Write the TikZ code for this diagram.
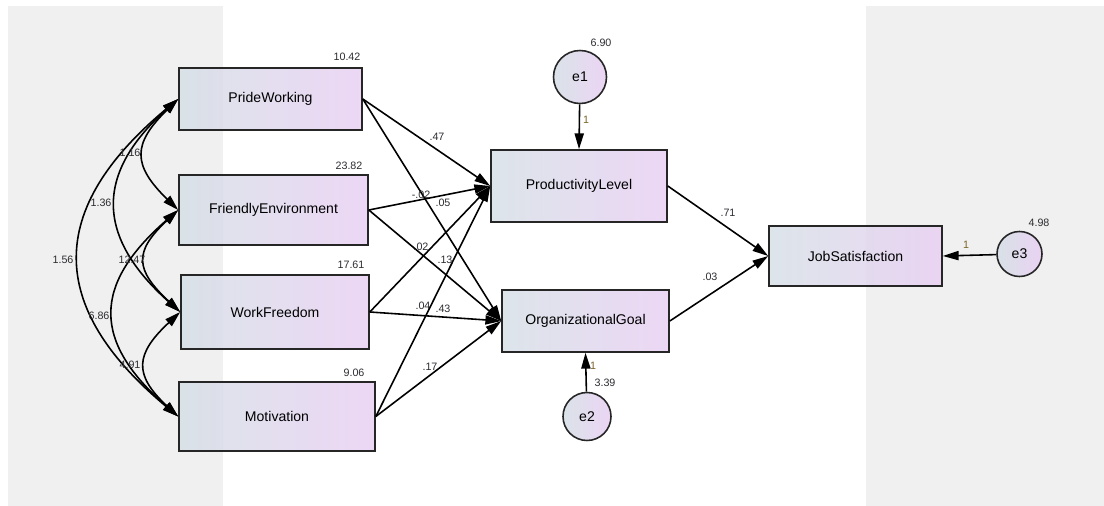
\documentclass[tikz,border=0pt]{standalone}
\usepackage{fontspec}
\setmainfont{Liberation Sans}
\usetikzlibrary{arrows.meta, calc}

\definecolor{panelgray}{RGB}{240,240,240}
\definecolor{boxleft}{RGB}{214,224,230}
\definecolor{boxright}{RGB}{233,208,243}
\definecolor{numtext}{RGB}{45,45,50}
\definecolor{onetext}{RGB}{125,100,40}

\tikzset{
  obsbox/.style={draw=black!85, line width=0.9pt, left color=boxleft, right color=boxright,
    fill opacity=0.85, text opacity=1, inner sep=0pt, font=\fontsize{8}{9}\selectfont},
  errcirc/.style={circle, draw=black!85, line width=0.9pt, shading=axis, shading angle=135,
    left color=boxleft, right color=boxright, fill opacity=0.9, text opacity=1, inner sep=0pt,
    font=\fontsize{8}{9}\selectfont},
  regarrow/.style={line width=0.9pt, -{Triangle[length=9pt,width=5.2pt]}},
  covarrow/.style={line width=0.9pt, {Triangle[length=9pt,width=5.2pt]}-{Triangle[length=9pt,width=5.2pt]}},
  est/.style={inner sep=0pt, text=numtext, font=\fontsize{6.1}{7}\selectfont},
  fixone/.style={est, text=onetext}
}

\begin{document}
\begin{tikzpicture}[x=0.2mm, y=0.2mm]

    \useasboundingbox (0,0) rectangle (1104,-506);

    % Grey panels behind the model
    \fill[panelgray] (8,-6) rectangle (223,-506);
    \fill[panelgray] (866,-6) rectangle (1104,-506);

    % Exogenous observed variables
    \node[obsbox, minimum width=36.6mm, minimum height=12.4mm] (pw) at (270.5,-99) {PrideWorking};
    \node[obsbox, minimum width=37.8mm, minimum height=14mm] (fe) at (273.5,-210) {FriendlyEnvironment};
    \node[obsbox, minimum width=37.6mm, minimum height=14.8mm] (wf) at (275,-312) {WorkFreedom};
    \node[obsbox, minimum width=39.2mm, minimum height=13.8mm] (mo) at (277,-416.5) {Motivation};

    % Endogenous variables
    \node[obsbox, minimum width=35.2mm, minimum height=14.4mm] (pl) at (579,-186) {ProductivityLevel};
    \node[obsbox, minimum width=33.4mm, minimum height=12.4mm] (og) at (585.5,-321) {OrganizationalGoal};
    \node[obsbox, minimum width=34.6mm, minimum height=12mm] (js) at (855.5,-256) {JobSatisfaction};

    % Error terms
    \node[errcirc, minimum size=10.6mm] (e1) at (580,-77) {e1};
    \node[errcirc, minimum size=9.6mm] (e2) at (587,-416.5) {e2};
    \node[errcirc, minimum size=9mm] (e3) at (1019.5,-254) {e3};

    % Covariances between the exogenous variables
    \draw[covarrow] (pw.west) .. controls +(-46,-45) and +(-46,45) .. (fe.west);
    \draw[covarrow] (pw.west) .. controls +(-84,-75) and +(-84,75) .. (wf.west);
    \draw[covarrow] (pw.west) .. controls +(-132,-110) and +(-132,110) .. (mo.west);
    \draw[covarrow] (fe.west) .. controls +(-45,-42) and +(-45,42) .. (wf.west);
    \draw[covarrow] (fe.west) .. controls +(-86,-75) and +(-86,75) .. (mo.west);
    \draw[covarrow] (wf.west) .. controls +(-45,-42) and +(-45,42) .. (mo.west);

    % Regression paths
    \foreach \src in {pw, fe, wf, mo} {
        \draw[regarrow] (\src.east) -- (pl.west);
        \draw[regarrow] (\src.east) -- (og.west);
    }
    \draw[regarrow] (pl.east) -- (js.west);
    \draw[regarrow] (og.east) -- (js.west);
    \draw[regarrow] (e1) -- (pl.north);
    \draw[regarrow] (e2) -- (og.south);
    \draw[regarrow] (e3) -- (js.east);

    % Variances
    \node[est] (vpw) at (347,-57) {10.42};
    \node[est] (vfe) at (349,-166) {23.82};
    \node[est] (vwf) at (351,-265) {17.61};
    \node[est] (vmo) at (354,-373) {9.06};
    \node[est] (ve1) at (601,-43) {6.90};
    \node[est] (ve2) at (605,-383) {3.39};
    \node[est] (ve3) at (1039,-223) {4.98};

    % Covariance estimates
    \node[est] (cpwfe) at (130,-153) {1.16};
    \node[est] (cpwwf) at (101,-203) {1.36};
    \node[est] (cpwmo) at (63,-260) {1.56};
    \node[est] (cfewf) at (132,-260) {12.47};
    \node[est] (cfemo) at (99,-316) {6.86};
    \node[est] (cwfmo) at (130,-365) {4.91};

    % Path coefficients
    \node[est] (bpwpl) at (437,-137) {.47};
    \node[est] (bpwog) at (421,-195) {-.02};
    \node[est] (bfepl) at (443,-203) {.05};
    \node[est] (bfeog) at (421,-247) {.02};
    \node[est] (bwfpl) at (445,-260) {.13};
    \node[est] (bwfog) at (423,-306) {.04};
    \node[est] (bmopl) at (443,-309) {.43};
    \node[est] (bmoog) at (430,-367) {.17};
    \node[est] (bpljs) at (728,-213) {.71};
    \node[est] (bogjs) at (710,-277) {.03};

    % Fixed error weights
    \node[fixone] (w1) at (586,-120) {1};
    \node[fixone] (w2) at (593,-366) {1};
    \node[fixone] (w3) at (966,-245) {1};

\end{tikzpicture}
\end{document}
